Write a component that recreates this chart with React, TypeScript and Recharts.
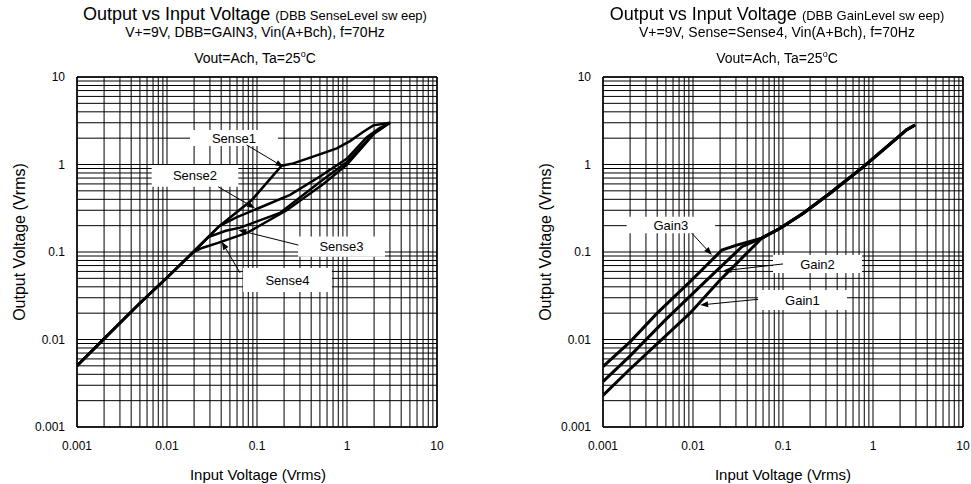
import { LineChart, Line, XAxis, YAxis, CartesianGrid, ReferenceArea, ReferenceLine } from 'recharts'

type Pt = [number, number]

const DECADES = [0.001, 0.01, 0.1, 1, 10]
const MINOR = [1, 2, 3, 4, 5, 6, 7, 8, 9]

// left panel: DBB SenseLevel sweep
const leftCommon: Pt[] = [[0.001, 0.005], [0.002, 0.0102], [0.005, 0.026], [0.01, 0.051], [0.0196, 0.1]]
const sense1: Pt[] = [...leftCommon, [0.038, 0.197], [0.087, 0.39], [0.188, 0.97], [0.253, 1.03], [0.42, 1.23], [0.77, 1.53], [1.08, 1.85], [1.52, 2.37], [1.96, 2.8], [3.0, 3.0]]
const sense2: Pt[] = [...leftCommon, [0.038, 0.197], [0.059, 0.249], [0.099, 0.31], [0.233, 0.45], [0.5, 0.73], [1.0, 1.17], [1.66, 2.05], [2.3, 2.6], [3.0, 3.0]]
const sense3: Pt[] = [...leftCommon, [0.0288, 0.148], [0.045, 0.175], [0.065, 0.19], [0.18, 0.28], [0.5, 0.63], [1.0, 1.07], [2.0, 2.3], [3.0, 3.0]]
const sense4: Pt[] = [...leftCommon, [0.025, 0.112], [0.037, 0.127], [0.077, 0.165], [0.214, 0.3], [0.546, 0.6], [1.0, 1.0], [2.0, 2.25], [3.0, 3.0]]

// right panel: DBB GainLevel sweep
const rightCommon: Pt[] = [[0.058, 0.144], [0.093, 0.187], [0.168, 0.277], [0.333, 0.469], [0.78, 0.94], [1.83, 1.99], [2.35, 2.48], [2.93, 2.83]]
const gain3: Pt[] = [[0.001, 0.0049], [0.002, 0.0094], [0.004, 0.02], [0.00966, 0.0478], [0.0209, 0.105], [0.0306, 0.12], ...rightCommon]
const gain2: Pt[] = [[0.001, 0.0033], [0.002, 0.0065], [0.005, 0.017], [0.0142, 0.0478], [0.035, 0.115], ...rightCommon]
const gain1: Pt[] = [[0.001, 0.0023], [0.002, 0.0046], [0.00926, 0.02], [0.02, 0.0478], ...rightCommon]

// annotation boxes [x1, x2, y1, y2] and arrows [xFrom, yFrom, xTo, yTo], in data units
const leftLabels = [
  { text: 'Sense1', box: [0.018, 0.171, 1.63, 2.48], arrow: [0.077, 1.67, 0.196, 0.94] },
  { text: 'Sense2', box: [0.00676, 0.062, 0.557, 0.987], arrow: [0.037, 0.557, 0.095, 0.316] },
  { text: 'Sense3', box: [0.286, 2.64, 0.088, 0.15], arrow: [0.288, 0.12, 0.062, 0.178] },
  { text: 'Sense4', box: [0.07, 0.68, 0.0349, 0.0656], arrow: [0.065, 0.0575, 0.0406, 0.131] },
]
const rightLabels = [
  { text: 'Gain3', box: [0.00183, 0.0176, 0.164, 0.253], arrow: [0.0097, 0.164, 0.0162, 0.0925] },
  { text: 'Gain2', box: [0.0774, 0.755, 0.0575, 0.0925], arrow: [0.1, 0.073, 0.0217, 0.061] },
  { text: 'Gain1', box: [0.0527, 0.514, 0.0217, 0.0368], arrow: [0.053, 0.0288, 0.012, 0.0248] },
]

const GRID_TICKS = [
  ...DECADES.slice(0, -1).flatMap(d => MINOR.map(m => Number((d * m).toPrecision(3)))),
  10,
]
const FONT = '"Liberation Sans", Arial, sans-serif'

const toRows = (pts: Pt[]) => pts.map(([x, y]) => ({ x, y }))
const fmt = (v: number) => (DECADES.includes(v) ? String(v) : '')

const arrowShape = (p: any) => {
  const { x1, y1, x2, y2 } = p
  const a = Math.atan2(y2 - y1, x2 - x1)
  const len = 8
  const w = 3
  const bx = x2 - len * Math.cos(a)
  const by = y2 - len * Math.sin(a)
  const pts = `${x2},${y2} ${bx - w * Math.sin(a)},${by + w * Math.cos(a)} ${bx + w * Math.sin(a)},${by - w * Math.cos(a)}`
  return (
    <g>
      <line x1={x1} y1={y1} x2={bx} y2={by} stroke="#000" strokeWidth={1} />
      <polygon points={pts} fill="#000" />
    </g>
  )
}

interface PanelProps {
  left: number
  width: number
  margin: { top: number; right: number; bottom: number; left: number }
  series: Pt[][]
  labels: { text: string; box: number[]; arrow: number[] }[]
  lineWidth: number
}

function Panel({ left, width, margin, series, labels, lineWidth }: PanelProps) {
  const axisTick = { fill: '#000', fontSize: 12, fontFamily: FONT }
  return (
    <div style={{ position: 'absolute', left, top: 0 }}>
      <LineChart width={width} height={484} margin={margin}>
        <CartesianGrid stroke="#000" strokeWidth={1} />
        <XAxis
          dataKey="x" type="number" scale="log" domain={[0.001, 10]} allowDataOverflow
          ticks={GRID_TICKS} interval={0} tickFormatter={fmt} tickLine={false}
          tickSize={6} tickMargin={8} height={30}
          axisLine={{ stroke: '#000', strokeWidth: 1.5 }} tick={axisTick}
        />
        <YAxis
          dataKey="y" type="number" scale="log" domain={[0.001, 10]} allowDataOverflow
          ticks={GRID_TICKS} interval={0} tickFormatter={fmt} tickLine={false}
          tickSize={6} tickMargin={6} width={60}
          axisLine={{ stroke: '#000', strokeWidth: 1.5 }} tick={axisTick}
        />
        <ReferenceLine y={10} stroke="#000" strokeWidth={1.5} />
        <ReferenceLine x={10} stroke="#000" strokeWidth={1.5} />
        {labels.map(l => (
          <ReferenceArea
            key={l.text}
            x1={l.box[0]} x2={l.box[1]} y1={l.box[2]} y2={l.box[3]}
            fill="#fff" fillOpacity={1} stroke="none"
            label={{ value: l.text, position: 'center', fill: '#000', fontSize: 13, fontFamily: FONT }}
          />
        ))}
        {series.map((s, i) => (
          <Line
            key={i} data={toRows(s)} dataKey="y" type="linear"
            stroke="#000" strokeWidth={lineWidth} dot={false} isAnimationActive={false}
          />
        ))}
        {labels.map(l => (
          <ReferenceLine
            key={l.text + '-arrow'}
            segment={[{ x: l.arrow[0], y: l.arrow[1] }, { x: l.arrow[2], y: l.arrow[3] }]}
            shape={arrowShape}
          />
        ))}
      </LineChart>
    </div>
  )
}

function Titles({ cx, sub, line2 }: { cx: number; sub: string; line2: string }) {
  const base = { position: 'absolute' as const, left: cx - 250, width: 500, textAlign: 'center' as const, whiteSpace: 'nowrap' as const }
  return (
    <>
      <div style={{ ...base, top: 5, fontSize: 18, lineHeight: '18px' }}>
        Output vs Input Voltage <span style={{ fontSize: 13 }}>{sub}</span>
      </div>
      <div style={{ ...base, top: 25, fontSize: 14, lineHeight: '14px' }}>{line2}</div>
      <div style={{ ...base, top: 47, fontSize: 14, lineHeight: '14px' }}>
        Vout=Ach, Ta=25<span style={{ fontSize: 9, verticalAlign: 'super' }}>o</span>C
      </div>
    </>
  )
}

function AxisTitles({ plotCx, yCx }: { plotCx: number; yCx: number }) {
  return (
    <>
      <div style={{ position: 'absolute', left: plotCx - 150, width: 300, top: 467, textAlign: 'center', fontSize: 15, lineHeight: '15px' }}>
        Input Voltage (Vrms)
      </div>
      <div style={{ position: 'absolute', left: yCx, top: 242, fontSize: 16, lineHeight: '16px', whiteSpace: 'nowrap', transform: 'translate(-50%, -50%) rotate(-90deg)' }}>
        Output Voltage (Vrms)
      </div>
    </>
  )
}

export default function App() {
  return (
    <div style={{ position: 'fixed', left: 0, top: 0, width: 971, height: 484, background: '#fff', fontFamily: FONT, color: '#000' }}>
      <Panel
        left={0} width={490}
        margin={{ top: 77, right: 53, bottom: 27, left: 17 }}
        series={[sense1, sense2, sense3, sense4]}
        labels={leftLabels}
        lineWidth={2.5}
      />
      <Panel
        left={490} width={481}
        margin={{ top: 77, right: 8, bottom: 27, left: 53 }}
        series={[gain1, gain2, gain3]}
        labels={rightLabels}
        lineWidth={3}
      />
      <Titles cx={255} sub="(DBB SenseLevel sw eep)" line2="V+=9V, DBB=GAIN3, Vin(A+Bch), f=70Hz" />
      <Titles cx={777} sub="(DBB GainLevel sw eep)" line2="V+=9V, Sense=Sense4, Vin(A+Bch), f=70Hz" />
      <AxisTitles plotCx={258} yCx={20} />
      <AxisTitles plotCx={783} yCx={546} />
    </div>
  )
}
